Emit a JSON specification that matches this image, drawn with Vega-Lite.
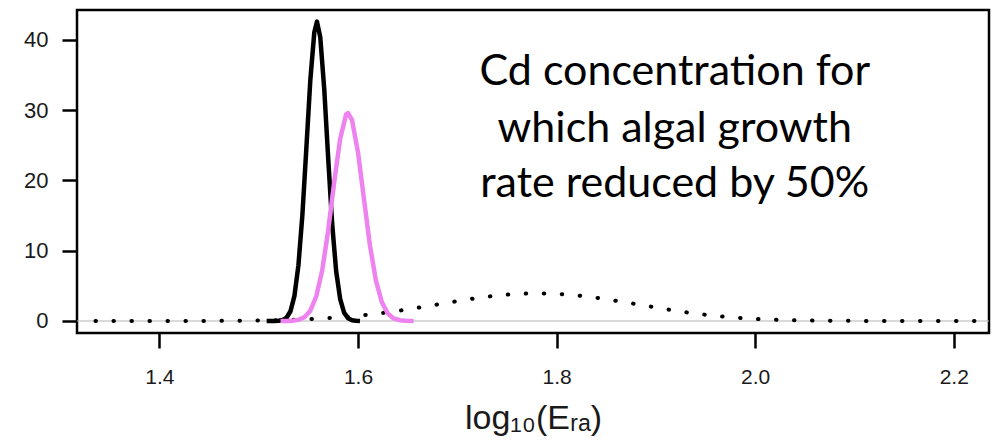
{
  "$schema": "https://vega.github.io/schema/vega-lite/v6.json",
  "width": 912,
  "height": 323,
  "autosize": {"type": "none"},
  "padding": {"left": 77, "top": 10, "right": 10, "bottom": 115},
  "background": "white",
  "config": {
    "view": {"stroke": "#000", "strokeWidth": 2.5},
    "axis": {"domain": false, "grid": false, "tickColor": "#000", "tickWidth": 2.5, "tickSize": 15, "labelFont": "Liberation Sans", "labelFontSize": 21, "labelColor": "#1a1a1a", "titleFont": "Liberation Sans", "titleFontWeight": "normal", "titleColor": "#1a1a1a"}
  },
  "datasets": {
    "prior": [
      {"x": 1.3356, "y": 0}, {"x": 1.36, "y": 0}, {"x": 1.38, "y": 0}, {"x": 1.40, "y": 0.002}, {"x": 1.42, "y": 0.005}, {"x": 1.44, "y": 0.011}, {"x": 1.46, "y": 0.021}, {"x": 1.48, "y": 0.039}, {"x": 1.50, "y": 0.07}, {"x": 1.52, "y": 0.12}, {"x": 1.54, "y": 0.21}, {"x": 1.56, "y": 0.33}, {"x": 1.58, "y": 0.50}, {"x": 1.60, "y": 0.74}, {"x": 1.62, "y": 1.05}, {"x": 1.64, "y": 1.44}, {"x": 1.66, "y": 1.88}, {"x": 1.68, "y": 2.35}, {"x": 1.70, "y": 2.83}, {"x": 1.72, "y": 3.27}, {"x": 1.74, "y": 3.63}, {"x": 1.76, "y": 3.86}, {"x": 1.78, "y": 3.95}, {"x": 1.80, "y": 3.88}, {"x": 1.82, "y": 3.65}, {"x": 1.84, "y": 3.31}, {"x": 1.86, "y": 2.87}, {"x": 1.88, "y": 2.40}, {"x": 1.90, "y": 1.92}, {"x": 1.92, "y": 1.45}, {"x": 1.94, "y": 1.05}, {"x": 1.96, "y": 0.72}, {"x": 1.98, "y": 0.47}, {"x": 2.00, "y": 0.29}, {"x": 2.02, "y": 0.17}, {"x": 2.04, "y": 0.10}, {"x": 2.06, "y": 0.05}, {"x": 2.08, "y": 0.03}, {"x": 2.10, "y": 0.015}, {"x": 2.12, "y": 0.007}, {"x": 2.14, "y": 0.003}, {"x": 2.16, "y": 0}, {"x": 2.18, "y": 0}, {"x": 2.20, "y": 0}, {"x": 2.227, "y": 0}
    ],
    "black": [
      {"x": 1.508, "y": 0}, {"x": 1.516, "y": 0.01}, {"x": 1.520, "y": 0.03}, {"x": 1.524, "y": 0.13}, {"x": 1.528, "y": 0.46}, {"x": 1.532, "y": 1.38}, {"x": 1.536, "y": 3.57}, {"x": 1.540, "y": 7.93}, {"x": 1.544, "y": 15.1}, {"x": 1.548, "y": 24.6}, {"x": 1.552, "y": 34.3}, {"x": 1.556, "y": 41.1}, {"x": 1.5587, "y": 42.6}, {"x": 1.562, "y": 40.4}, {"x": 1.566, "y": 33.0}, {"x": 1.570, "y": 23.1}, {"x": 1.574, "y": 13.8}, {"x": 1.578, "y": 7.1}, {"x": 1.582, "y": 3.16}, {"x": 1.586, "y": 1.19}, {"x": 1.590, "y": 0.38}, {"x": 1.594, "y": 0.11}, {"x": 1.598, "y": 0.03}, {"x": 1.602, "y": 0}
    ],
    "pink": [
      {"x": 1.522, "y": 0}, {"x": 1.528, "y": 0.01}, {"x": 1.534, "y": 0.04}, {"x": 1.540, "y": 0.16}, {"x": 1.546, "y": 0.53}, {"x": 1.552, "y": 1.47}, {"x": 1.558, "y": 3.52}, {"x": 1.564, "y": 7.22}, {"x": 1.570, "y": 12.9}, {"x": 1.576, "y": 19.7}, {"x": 1.582, "y": 25.9}, {"x": 1.588, "y": 29.4}, {"x": 1.590, "y": 29.6}, {"x": 1.594, "y": 28.6}, {"x": 1.600, "y": 24.0}, {"x": 1.606, "y": 17.4}, {"x": 1.612, "y": 10.8}, {"x": 1.618, "y": 5.78}, {"x": 1.624, "y": 2.68}, {"x": 1.630, "y": 1.06}, {"x": 1.636, "y": 0.36}, {"x": 1.642, "y": 0.11}, {"x": 1.648, "y": 0.03}, {"x": 1.656, "y": 0}
    ],
    "note": [
      {"x": 1.919, "y": 33.6, "text": "Cd concentration for"},
      {"x": 1.919, "y": 25.5, "text": "which algal growth"},
      {"x": 1.919, "y": 17.7, "text": "rate reduced by 50%"}
    ]
  },
  "layer": [
    {
      "data": {"values": [{"y": 0}]},
      "mark": {"type": "rule", "color": "#b5b5b5", "strokeWidth": 1},
      "encoding": {
        "y": {"field": "y", "type": "quantitative", "scale": {"domain": [-1.71, 44.26], "nice": false, "zero": false}}
      }
    },
    {
      "data": {"name": "prior"},
      "mark": {"type": "line", "color": "#000", "strokeWidth": 4, "strokeDash": [0.5, 17.5], "strokeCap": "round"},
      "encoding": {
        "x": {"field": "x", "type": "quantitative", "scale": {"domain": [1.317, 2.2355], "nice": false, "zero": false},
              "axis": {"values": [1.4, 1.6, 1.8, 2.0, 2.2], "format": ".1f", "labelPadding": 18, "title": "log₁₀(Eᵣₐ)", "titleFontSize": 34, "titleBaseline": "alphabetic", "titleY": 95}},
        "y": {"field": "y", "type": "quantitative", "scale": {"domain": [-1.71, 44.26], "nice": false, "zero": false},
              "axis": {"values": [0, 10, 20, 30, 40], "title": null, "labelPadding": 14, "labelFontSize": 22}}
      }
    },
    {
      "data": {"name": "black"},
      "mark": {"type": "line", "color": "#000", "strokeWidth": 4.5, "strokeJoin": "round"},
      "encoding": {
        "x": {"field": "x", "type": "quantitative", "scale": {"domain": [1.317, 2.2355], "nice": false, "zero": false}},
        "y": {"field": "y", "type": "quantitative", "scale": {"domain": [-1.71, 44.26], "nice": false, "zero": false}}
      }
    },
    {
      "data": {"name": "pink"},
      "mark": {"type": "line", "color": "#EE82EE", "strokeWidth": 4.5, "strokeJoin": "round"},
      "encoding": {
        "x": {"field": "x", "type": "quantitative", "scale": {"domain": [1.317, 2.2355], "nice": false, "zero": false}},
        "y": {"field": "y", "type": "quantitative", "scale": {"domain": [-1.71, 44.26], "nice": false, "zero": false}}
      }
    },
    {
      "data": {"name": "note"},
      "mark": {"type": "text", "font": "Lato", "fontSize": 43, "color": "#000", "align": "center", "baseline": "alphabetic"},
      "encoding": {
        "x": {"field": "x", "type": "quantitative", "scale": {"domain": [1.317, 2.2355], "nice": false, "zero": false}},
        "y": {"field": "y", "type": "quantitative", "scale": {"domain": [-1.71, 44.26], "nice": false, "zero": false}},
        "text": {"field": "text"}
      }
    }
  ]
}
